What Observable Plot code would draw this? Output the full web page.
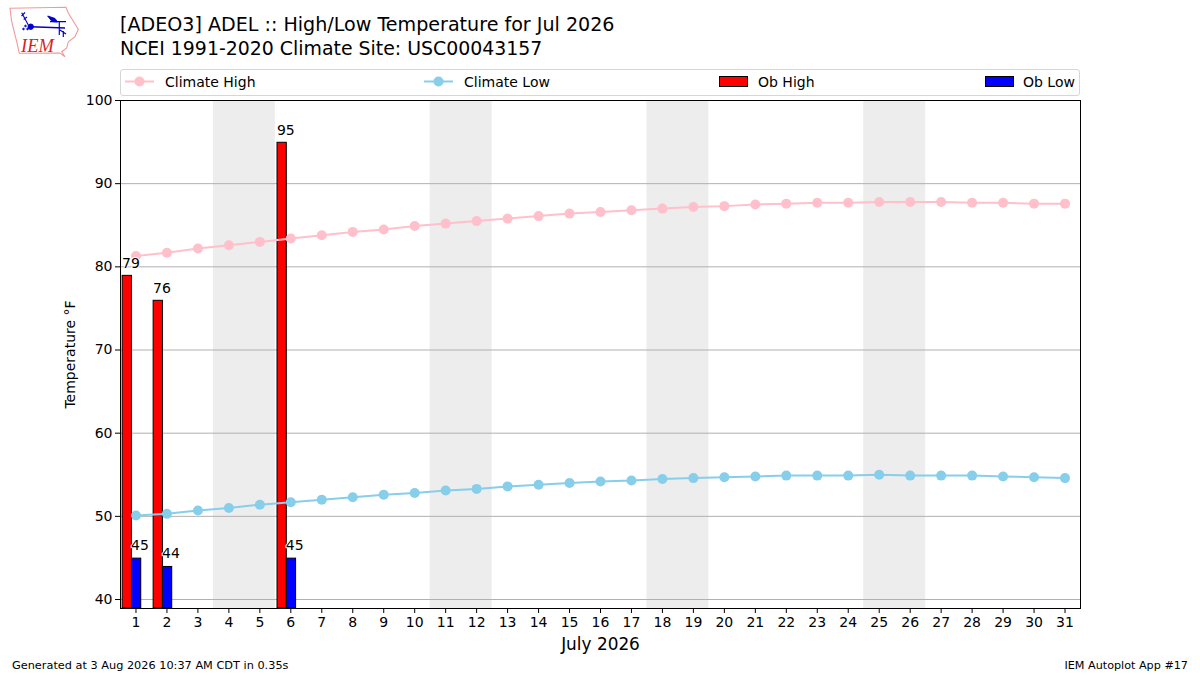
<!DOCTYPE html>
<html><head><meta charset="utf-8">
<script src="https://cdn.jsdelivr.net/npm/d3@7"></script>
<script src="https://cdn.jsdelivr.net/npm/@observablehq/plot@0.6"></script>
<style>
html,body{margin:0;padding:0;background:#fff;}
#page{position:relative;width:1200px;height:675px;overflow:hidden;font-family:"DejaVu Sans",sans-serif;color:#000;}
#page svg.chart{position:absolute;left:0;top:0;}
.t{position:absolute;white-space:nowrap;line-height:1;}
#legend{position:absolute;left:120px;top:69px;width:958px;height:25px;border:1px solid #d6d6d6;border-radius:3px;background:#fff;}
</style></head><body>
<div id="page">
  <svg id="logo" style="position:absolute;left:0;top:0" width="90" height="60">
    <path d="M10,8.3 L66,7.3 L68.3,13 L72,19 L78.3,29.3 L75,36.7 L68.3,41.7 L66.7,48 L61.7,51.7 L65,56.7 L60,53 L19.3,53.3 L16.7,41.7 L11.7,21.7 Z" fill="#fff" stroke="#f09a9a" stroke-width="1.1"/>
    <g stroke="#0000d0" fill="#0000d0">
      <path d="M31,26.7 L65,28" stroke-width="1.5"/><circle cx="30.7" cy="26.7" r="2.7"/>
      <path d="M47.7,16 L55,18.5 L57.5,22 L52,21.5 Z"/><path d="M50,21.7 L66,21.7 M59.3,21.7 L59.3,35 M63.3,31 L63.3,37 M60,30 L66,34" stroke-width="1.2" fill="none"/>
      <path d="M21.7,12.7 L28.3,25 M21.5,16 L25,12.5 M23.7,19.5 L27,17" stroke-width="1.1" fill="none"/>
      <circle cx="23.5" cy="29" r="0.8"/><circle cx="25.5" cy="26" r="0.8"/><circle cx="27.5" cy="29" r="0.8"/>
    </g>
    <text x="21" y="51.7" font-family="Liberation Serif" font-style="italic" font-size="18.5" fill="#d81f26">IEM</text>
  </svg>
  <div class="t" style="left:120px;top:15px;font-size:19.1px">[ADEO3] ADEL :: High/Low Temperature for Jul 2026</div>
  <div class="t" style="left:120px;top:38.5px;font-size:18.9px">NCEI 1991-2020 Climate Site: USC00043157</div>
  <div id="legend"></div>
  <div class="t" style="left:12px;top:660px;font-size:11.3px">Generated at 3 Aug 2026 10:37 AM CDT in 0.35s</div>
  <div class="t" style="right:12px;top:660px;font-size:11.2px">IEM Autoplot App #17</div>
</div>
<script>
const days = d3.range(1, 32);
const climateHigh = [81.3,81.7,82.2,82.6,83.0,83.4,83.8,84.2,84.5,84.9,85.2,85.5,85.8,86.1,86.4,86.6,86.8,87.0,87.2,87.3,87.5,87.6,87.7,87.7,87.8,87.8,87.8,87.7,87.7,87.6,87.6];
const climateLow = [50.1,50.3,50.7,51.0,51.4,51.7,52.0,52.3,52.6,52.8,53.1,53.3,53.6,53.8,54.0,54.2,54.3,54.5,54.6,54.7,54.8,54.9,54.9,54.9,55.0,54.9,54.9,54.9,54.8,54.7,54.6];
const obDays = [1, 2, 6];
const obHigh = [79, 76, 95];
const obLow = [45, 44, 45];
const weekendStart = [3.5, 10.5, 17.5, 24.5];
const weekendEnd = [5.5, 12.5, 19.5, 26.5];
const yTicks = [40,50,60,70,80,90,100];

const climate = days.map((d,i)=>({d, hi:climateHigh[i], lo:climateLow[i]}));
const obs = obDays.map((d,i)=>({d, hi:obHigh[i], lo:obLow[i]}));
const weekends = weekendStart.map((s,i)=>({s, e:weekendEnd[i]}));
const BASE = 38.92, TOP = 100;

const chart = Plot.plot({
  width:1200, height:675,
  marginTop:100, marginBottom:67, marginLeft:120, marginRight:120,
  style:{fontFamily:"DejaVu Sans", background:"transparent", color:"#000"},
  x:{domain:[0.5,31.5]},
  y:{domain:[BASE,TOP]},
  marks:[
    Plot.rect(weekends,{x1:"s",x2:"e",y1:BASE,y2:TOP,fill:"#ededed"}),
    Plot.ruleY(yTicks,{stroke:"#b0b0b0",strokeWidth:1}),
    Plot.rect(obs,{x1:d=>d.d-0.43,x2:d=>d.d-0.13,y1:BASE,y2:"hi",insetTop:0.7,fill:"#ff0000",stroke:"#000",strokeWidth:1}),
    Plot.rect(obs,{x1:d=>d.d-0.13,x2:d=>d.d+0.17,y1:BASE,y2:"lo",insetTop:0.7,fill:"#0000ff",stroke:"#000",strokeWidth:1}),
    Plot.line(climate,{x:"d",y:"hi",stroke:"pink",strokeWidth:2}),
    Plot.dot(climate,{x:"d",y:"hi",fill:"pink",r:5}),
    Plot.line(climate,{x:"d",y:"lo",stroke:"skyblue",strokeWidth:2}),
    Plot.dot(climate,{x:"d",y:"lo",fill:"skyblue",r:5}),
    Plot.text(obs,{x:d=>d.d-0.45,y:"hi",text:d=>String(d.hi),textAnchor:"start",lineAnchor:"bottom",dy:-7.5,fontSize:14,fill:"#000",stroke:"#fff",strokeWidth:2}),
    Plot.text(obs,{x:d=>d.d-0.16,y:"lo",text:d=>String(d.lo),textAnchor:"start",lineAnchor:"bottom",dy:-8,fontSize:14,fill:"#000",stroke:"#fff",strokeWidth:2}),
    Plot.frame({stroke:"#000",strokeWidth:1}),
    Plot.axisX({ticks:days,tickFormat:d=>String(d),tickSize:5,tickPadding:4,fontSize:14,label:null}),
    Plot.axisY({ticks:yTicks,tickSize:5,tickPadding:3,fontSize:14,label:"Temperature °F",labelAnchor:"center",labelArrow:"none",labelOffset:55}),
    Plot.text(["July 2026"],{frameAnchor:"bottom",dy:41,fontSize:16.9,fill:"#000",text:d=>d})
  ]
});
chart.classList.add("chart");
document.getElementById("page").insertBefore(chart, document.getElementById("logo"));

// legend
const legendItems = [
  {label:"Climate High", kind:"line", color:"pink", x:4, tx:44},
  {label:"Climate Low", kind:"line", color:"skyblue", x:303, tx:343},
  {label:"Ob High", kind:"patch", color:"#ff0000", x:598, tx:637},
  {label:"Ob Low", kind:"patch", color:"#0000ff", x:864, tx:902}
];
const lg = d3.select("#legend");
const ls = lg.append("svg").attr("width",958).attr("height",25).style("position","absolute").style("left",0).style("top",0);
for (const it of legendItems) {
  if (it.kind==="line") {
    ls.append("line").attr("x1",it.x).attr("x2",it.x+29).attr("y1",11.5).attr("y2",11.5).attr("stroke",it.color).attr("stroke-width",2);
    ls.append("circle").attr("cx",it.x+14.5).attr("cy",11.5).attr("r",5).attr("fill",it.color);
  } else {
    ls.append("rect").attr("x",it.x+0.5).attr("y",6.5).attr("width",28).attr("height",10).attr("fill",it.color).attr("stroke","#000").attr("stroke-width",1);
  }
  lg.append("div").attr("class","t").style("left",it.tx+"px").style("top","4.5px").style("font-size","14px").text(it.label);
}
</script>
</body></html>
